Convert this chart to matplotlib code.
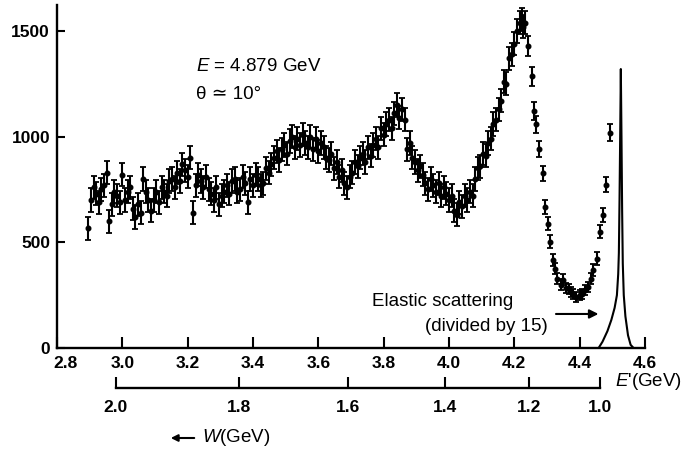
import matplotlib
matplotlib.use("Agg")
import matplotlib.pyplot as plt
import matplotlib.transforms as mtransforms
import numpy as np

plt.rcParams['font.family'] = ['Liberation Sans', 'DejaVu Sans']
plt.rcParams['mathtext.fontset'] = 'custom'
plt.rcParams['mathtext.rm'] = 'Liberation Sans'
plt.rcParams['mathtext.it'] = 'Liberation Sans:italic'
plt.rcParams['mathtext.bf'] = 'Liberation Sans:bold'

# ---- data: inelastic electron-proton spectrum (E' in GeV, counts) ----
e_dense = [2.896, 2.904, 2.912, 2.920, 2.928, 2.936, 2.944, 2.952, 2.960, 2.968,
           2.976, 2.984, 2.992, 3.000, 3.008, 3.016, 3.024, 3.032, 3.040, 3.048,
           3.056, 3.064, 3.072, 3.080, 3.088, 3.096, 3.104, 3.112, 3.120, 3.128,
           3.136, 3.144, 3.152, 3.160, 3.168, 3.176, 3.184, 3.192, 3.200, 3.208,
           3.216, 3.224, 3.232, 3.240, 3.248, 3.256, 3.264, 3.272, 3.280, 3.288,
           3.296, 3.304, 3.312, 3.320, 3.328, 3.336, 3.344, 3.352, 3.360, 3.368,
           3.376, 3.384, 3.392, 3.400, 3.408, 3.416, 3.424, 3.432, 3.440, 3.448,
           3.456, 3.464, 3.472, 3.480, 3.488, 3.496, 3.504, 3.512, 3.520, 3.528,
           3.536, 3.544, 3.552, 3.560, 3.568, 3.576, 3.584, 3.592, 3.600, 3.608,
           3.616, 3.624, 3.632, 3.640, 3.648, 3.656, 3.664, 3.672, 3.680, 3.688,
           3.696, 3.704, 3.712, 3.720, 3.728, 3.736, 3.744, 3.752, 3.760, 3.768,
           3.776, 3.784, 3.792, 3.800, 3.808, 3.816, 3.824, 3.832, 3.840, 3.848,
           3.856, 3.864, 3.872, 3.880, 3.888, 3.896, 3.904, 3.912, 3.920, 3.928,
           3.936, 3.944, 3.952, 3.960, 3.968, 3.976, 3.984, 3.992, 4.000, 4.008,
           4.016, 4.024, 4.032, 4.040, 4.048, 4.056, 4.064, 4.072, 4.080, 4.088,
           4.096, 4.104, 4.112, 4.120, 4.128, 4.136, 4.144, 4.152, 4.160, 4.168,
           4.176, 4.184, 4.192, 4.200, 4.208, 4.216, 4.222, 4.228, 4.234]
v_dense = [566, 700, 760, 730, 690, 750, 770, 830, 600, 680,
           740, 720, 690, 820, 700, 740, 760, 660, 620, 680,
           640, 800, 740, 700, 650, 700, 740, 690, 760, 740,
           720, 790, 800, 760, 830, 790, 870, 840, 810, 900,
           640, 770, 820, 790, 760, 810, 750, 730, 700, 760,
           680, 720, 740, 770, 730, 790, 800, 740, 750, 810,
           780, 690, 800, 770, 820, 800, 770, 780, 850, 830,
           870, 900, 930, 890, 940, 960, 920, 980, 1000, 950,
           990, 960, 1010, 970, 950, 1000, 940, 990, 930, 970,
           950, 900, 890, 920, 850, 880, 810, 840, 780, 760,
           810, 830, 880, 860, 900, 920, 880, 950, 910, 960,
           990, 950, 1040, 1010, 1060, 1080, 1040, 1110, 1150, 1090,
           1130, 1080, 940, 970, 900, 880, 840, 860, 820, 780,
           750, 800, 770, 740, 780, 720, 760, 730, 700, 720,
           650, 630, 690, 670, 720, 700, 740, 720, 800, 850,
           860, 920, 910, 970, 990, 1060, 1080, 1130, 1170, 1260,
           1250, 1370, 1390, 1440, 1500, 1540, 1555, 1520, 1540]
err_dense = 55

e_sparse = [4.243, 4.253, 4.260, 4.265, 4.277, 4.287, 4.294, 4.304, 4.308, 4.319,
            4.324, 4.331, 4.342, 4.350, 4.358, 4.367, 4.374, 4.380, 4.390, 4.400,
            4.408, 4.416, 4.424, 4.434, 4.441, 4.454, 4.461, 4.470, 4.482, 4.494]
v_sparse = [1428, 1286, 1120, 1058, 940, 826, 669, 589, 503, 418,
            375, 328, 300, 323, 285, 280, 265, 256, 242, 251,
            256, 275, 290, 328, 370, 423, 551, 631, 772, 1018]
err_sparse = [48, 45, 42, 40, 38, 36, 33, 33, 30, 28,
              27, 26, 25, 26, 24, 24, 23, 23, 22, 22,
              23, 24, 24, 26, 28, 29, 32, 33, 36, 40]

# elastic peak (divided by 15)
e_elastic = [4.458, 4.470, 4.485, 4.497, 4.507, 4.514, 4.518, 4.520, 4.522, 4.524,
             4.526, 4.528, 4.530, 4.532, 4.535, 4.540, 4.548, 4.556, 4.565]
v_elastic = [0, 30, 80, 133, 190, 250, 350, 450, 700, 1000,
             1320, 1000, 650, 400, 250, 150, 60, 15, 0]

x_ticks = [2.8, 3.0, 3.2, 3.4, 3.6, 3.8, 4.0, 4.2, 4.4, 4.6]
y_ticks = [0, 500, 1000, 1500]
w_ticks = [2.0, 1.8, 1.6, 1.4, 1.2, 1.0]

# kinematics for the W scale: E = 4.879 GeV, theta = 10 deg, proton mass
E_beam, theta_deg, M_p = 4.879, 10.0, 0.938
s2 = np.sin(np.radians(theta_deg) / 2) ** 2
def eprime_of_w(w):
    w = np.asarray(w)
    return (M_p**2 + 2 * M_p * E_beam - w**2) / (2 * M_p + 4 * E_beam * s2)

W_PX, H_PX = 683, 470
fig = plt.figure(figsize=(W_PX / 100, H_PX / 100), dpi=100)
def fx(px): return px / W_PX
def fy(py): return 1 - py / H_PX

x0, x1, y0, y1 = 57, 645, 348, 5
ax = fig.add_axes([fx(x0), fy(y0), fx(x1) - fx(x0), fy(y1) - fy(y0)])
ax.set_xlim(2.8, 4.6)
ax.set_ylim(0, 1623)
for s in ('top', 'right'):
    ax.spines[s].set_visible(False)
for s in ('left', 'bottom'):
    ax.spines[s].set_linewidth(1.7)

eb_style = dict(fmt='o', ms=3.3, color='black', ecolor='black',
                elinewidth=1.5, capsize=2.2, capthick=1.3)
ax.errorbar(e_dense, v_dense, yerr=err_dense, **eb_style)
ax.errorbar(e_sparse, v_sparse, yerr=err_sparse, **eb_style)
ax.plot(e_elastic, v_elastic, color='black', lw=1.5)

tick_font = dict(family=['Liberation Sans', 'DejaVu Sans'], weight='bold', size=12.5)
ax.set_xticks(x_ticks)
ax.set_xticklabels([f"{t:.1f}" for t in x_ticks], **tick_font)
ax.set_yticks(y_ticks)
ax.set_yticklabels([str(t) for t in y_ticks], **tick_font)
ax.tick_params(axis='x', direction='in', length=8, width=1.5, pad=6)
ax.tick_params(axis='y', direction='in', length=6, width=1.5, pad=5)
# first E' label sits a little right of the corner, as in the original
lab0 = ax.get_xticklabels()[0]
lab0.set_transform(lab0.get_transform() + mtransforms.ScaledTranslation(0.09, 0, fig.dpi_scale_trans))

txt_font = dict(family=['Liberation Sans', 'DejaVu Sans'], size=13.5)
ax.text(3.227, 1333, r"$\mathit{E}$ = 4.879 GeV", ha='left', va='center', **txt_font)
ax.text(3.227, 1200, "θ ≃ 10°", ha='left', va='center', **txt_font)
ax.text(3.764, 218, "Elastic scattering", ha='left', va='center', **txt_font)
ax.text(3.925, 100, "(divided by 15)", ha='left', va='center', **txt_font)
ax.annotate('', xy=(4.466, 161), xytext=(4.319, 161),
            arrowprops=dict(arrowstyle='-|>', color='black', lw=1.5, mutation_scale=13))

fig.text(fx(682), fy(382), r"$\mathit{E}$'(GeV)", ha='right', va='center', **txt_font)

# W scale
ax2 = fig.add_axes([fx(x0), fy(388), fx(x1) - fx(x0), 0.0001])
ax2.set_xlim(2.8, 4.6)
ax2.patch.set_visible(False)
for s in ('top', 'right', 'left'):
    ax2.spines[s].set_visible(False)
ax2.spines['bottom'].set_linewidth(1.7)
w_pos = eprime_of_w(w_ticks)
ax2.spines['bottom'].set_bounds(w_pos.min(), w_pos.max())
ax2.set_yticks([])
ax2.set_xticks(w_pos)
ax2.set_xticklabels([f"{w:.1f}" for w in w_ticks], **tick_font)
ax2.tick_params(axis='x', direction='in', length=8, width=1.5, pad=9)

fig.text(fx(202), fy(438), r"$\mathit{W}$(GeV)", ha='left', va='center', **txt_font)
fig.add_artist(matplotlib.patches.FancyArrowPatch(
    (fx(197), fy(438)), (fx(168), fy(438)), transform=fig.transFigure,
    arrowstyle='-|>', mutation_scale=10, color='black', lw=1.5))

fig.savefig("out.png", dpi=100)
